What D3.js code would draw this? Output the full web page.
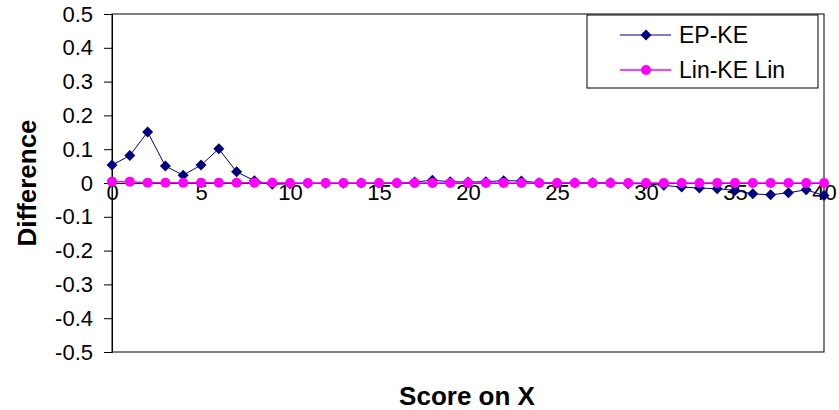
<!DOCTYPE html>
<html>
<head>
<meta charset="utf-8">
<script src="https://cdn.jsdelivr.net/npm/d3@7"></script>
<style>
  html, body { margin: 0; padding: 0; background: #fff; }
  svg { display: block; font-family: Arial, "Liberation Sans", sans-serif; }
</style>
</head>
<body>
<svg id="chart" width="839" height="410"></svg>
<script>
// Score points on X
const scores = d3.range(0, 41);
// Difference series
const epKE = [0.053, 0.081, 0.151, 0.050, 0.023, 0.053, 0.101, 0.033, 0.007, -0.004,
              -0.002, -0.001, -0.001, -0.001, 0.000, 0.000, 0.000, 0.003, 0.008, 0.004,
              0.003, 0.004, 0.007, 0.006, 0.001, 0.000, 0.001, 0.001, 0.001, -0.002,
              -0.002, -0.007, -0.012, -0.015, -0.017, -0.022, -0.032, -0.035, -0.029, -0.020,
              -0.037];
const linKELin = [0.004, 0.004, 0.001, 0.001, 0.001, 0.001, 0.001, 0.001, 0.001, 0.001,
                  0.000, 0.000, 0.000, 0.000, 0.000, 0.000, 0.000, 0.000, 0.000, 0.000,
                  0.000, 0.000, 0.000, 0.000, 0.000, 0.000, 0.000, 0.000, 0.000, 0.000,
                  0.000, 0.000, 0.000, 0.000, 0.000, 0.000, 0.000, 0.000, 0.000, 0.000,
                  0.000];
const seriesNames = ["EP-KE", "Lin-KE Lin"];
const xTicks = [0, 5, 10, 15, 20, 25, 30, 35, 40];
const yTicks = [0.5, 0.4, 0.3, 0.2, 0.1, 0, -0.1, -0.2, -0.3, -0.4, -0.5];
const yTickLabels = ["0.5", "0.4", "0.3", "0.2", "0.1", "0", "-0.1", "-0.2", "-0.3", "-0.4", "-0.5"];

const svg = d3.select("#chart");
const plot = { left: 112, right: 824, top: 14, bottom: 352 };

const x = d3.scaleLinear().domain([0, 40]).range([plot.left, plot.right]);
const y = d3.scaleLinear().domain([-0.5, 0.5]).range([plot.bottom, plot.top]);

const navy = "#000080";
const magenta = "#FF00FF";

// plot area frame
svg.append("rect")
  .attr("x", plot.left).attr("y", plot.top)
  .attr("width", plot.right - plot.left).attr("height", plot.bottom - plot.top)
  .attr("fill", "#fff").attr("stroke", "#000").attr("stroke-width", 1);

// y axis
const yAxis = svg.append("g")
  .attr("transform", `translate(${plot.left},0)`)
  .call(d3.axisLeft(y).tickValues(yTicks).tickSize(8).tickPadding(11)
        .tickFormat((d, i) => yTickLabels[i]));
yAxis.select(".domain").attr("stroke", "#000");
yAxis.selectAll(".tick line").attr("stroke", "#000");
yAxis.selectAll("text").attr("font-size", 22).attr("fill", "#000")
  .attr("font-family", "Arial, 'Liberation Sans', sans-serif");

// x axis on the zero line
const xAxis = svg.append("g")
  .attr("transform", `translate(0,${y(0)})`)
  .call(d3.axisBottom(x).tickValues(xTicks).tickSize(5).tickFormat(d3.format("d")));
xAxis.select(".domain").attr("stroke", "#000");
xAxis.selectAll(".tick line").attr("stroke", "#000");
xAxis.selectAll("text").attr("font-size", 22).attr("fill", "#000")
  .attr("y", 1).attr("dy", "0.71em")
  .attr("font-family", "Arial, 'Liberation Sans', sans-serif");

const line = d3.line().x((d, i) => x(scores[i])).y(d => y(d));
const diamond = r => `M0,${-r}L${r},0L0,${r}L${-r},0Z`;

// EP-KE series
svg.append("path").datum(epKE)
  .attr("d", line).attr("fill", "none").attr("stroke", navy).attr("stroke-width", 1);
svg.append("g").selectAll("path").data(epKE).join("path")
  .attr("transform", (d, i) => `translate(${x(scores[i])},${y(d)})`)
  .attr("d", diamond(5.5)).attr("fill", navy);

// Lin-KE Lin series
svg.append("path").datum(linKELin)
  .attr("d", line).attr("fill", "none").attr("stroke", magenta).attr("stroke-width", 1.5);
svg.append("g").selectAll("circle").data(linKELin).join("circle")
  .attr("cx", (d, i) => x(scores[i])).attr("cy", d => y(d))
  .attr("r", 5).attr("fill", magenta);

// axis titles
svg.append("text")
  .attr("transform", `translate(36,${y(0)}) rotate(-90)`)
  .attr("text-anchor", "middle")
  .attr("font-size", 26).attr("font-weight", "bold").text("Difference");
svg.append("text")
  .attr("x", 467).attr("y", 405)
  .attr("text-anchor", "middle")
  .attr("font-size", 26).attr("font-weight", "bold").text("Score on X");

// legend
const legend = svg.append("g");
legend.append("rect")
  .attr("x", 587).attr("y", 15).attr("width", 231).attr("height", 73)
  .attr("fill", "#fff").attr("stroke", "#000").attr("stroke-width", 1);
const rows = [
  { name: seriesNames[0], color: navy, marker: "diamond", cy: 35 },
  { name: seriesNames[1], color: magenta, marker: "circle", cy: 70 }
];
rows.forEach(r => {
  legend.append("line").attr("x1", 620).attr("x2", 671).attr("y1", r.cy).attr("y2", r.cy)
    .attr("stroke", r.color).attr("stroke-width", r.marker === "circle" ? 1.5 : 1);
  if (r.marker === "diamond") {
    legend.append("path").attr("transform", `translate(646,${r.cy})`)
      .attr("d", diamond(5.5)).attr("fill", r.color);
  } else {
    legend.append("circle").attr("cx", 646).attr("cy", r.cy).attr("r", 5).attr("fill", r.color);
  }
  legend.append("text").attr("x", 679).attr("y", r.cy).attr("dy", "0.36em")
    .attr("font-size", 23).text(r.name);
});
</script>
</body>
</html>
